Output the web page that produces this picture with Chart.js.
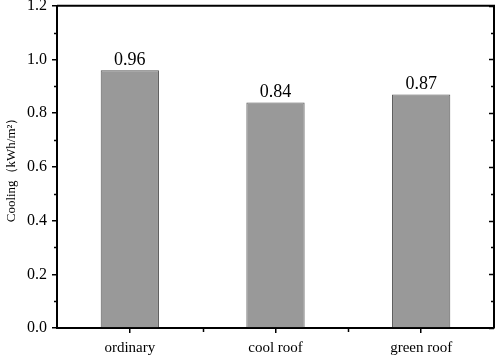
<!DOCTYPE html>
<html>
<head>
<meta charset="utf-8">
<script src="https://cdn.jsdelivr.net/npm/chart.js@4"></script>
<style>
	html, body { margin: 0; padding: 0; background: #fff; }
	#wrap { width: 498px; height: 355px; }
</style>
</head>
<body>
<div id="wrap"><canvas id="coolingChart" width="498" height="355"></canvas></div>
<script>
const categories = ['ordinary', 'cool roof', 'green roof'];
const coolingValues = [0.96, 0.84, 0.87];
const yTicks = [0, 0.2, 0.4, 0.6, 0.8, 1.0, 1.2];
const yMinorTicks = [0.1, 0.3, 0.5, 0.7, 0.9, 1.1];

const serif = '"Liberation Serif", "Times New Roman", serif';

// top + right frame, minor ticks, right-side inward ticks
const framePlugin = {
	id: 'frame',
	afterDraw(chart) {
		const ctx = chart.ctx;
		const a = chart.chartArea;
		const y = chart.scales.y;
		const x = chart.scales.x;
		ctx.save();
		ctx.strokeStyle = '#000';
		ctx.lineWidth = 2;
		ctx.beginPath();
		ctx.moveTo(a.left, a.top);
		ctx.lineTo(a.right, a.top);
		ctx.lineTo(a.right, a.bottom);
		ctx.stroke();
		ctx.lineWidth = 1.5;
		ctx.beginPath();
		yMinorTicks.forEach(v => {
			const py = Math.round(y.getPixelForValue(v)) + 0.5;
			ctx.moveTo(a.left - 3, py); ctx.lineTo(a.left, py);
			ctx.moveTo(a.right, py); ctx.lineTo(a.right - 3, py);
		});
		yTicks.forEach(v => {
			const py = Math.round(y.getPixelForValue(v)) + 0.5;
			ctx.moveTo(a.right, py); ctx.lineTo(a.right - 5, py);
		});
		for(let i = 0; i < categories.length - 1; i++) {
			const px = Math.round((x.getPixelForValue(i) + x.getPixelForValue(i + 1)) / 2) + 0.5;
			ctx.moveTo(px, a.bottom); ctx.lineTo(px, a.bottom + 4);
		}
		ctx.stroke();
		ctx.restore();
	}
};

// value above each bar
const barLabelPlugin = {
	id: 'barLabels',
	afterDatasetsDraw(chart) {
		const ctx = chart.ctx;
		const meta = chart.getDatasetMeta(0);
		ctx.save();
		ctx.font = '18px ' + serif;
		ctx.fillStyle = '#000';
		ctx.textAlign = 'center';
		ctx.textBaseline = 'bottom';
		meta.data.forEach((bar, i) => {
			ctx.fillText(coolingValues[i].toFixed(2), bar.x, bar.y - 1);
		});
		ctx.restore();
	}
};

new Chart(document.getElementById('coolingChart').getContext('2d'), {
	type: 'bar',
	data: {
		labels: categories,
		datasets: [{
			data: coolingValues,
			backgroundColor: '#999999',
			borderColor: '#555555',
			borderWidth: 1,
			barPercentage: 0.4,
			categoryPercentage: 1
		}]
	},
	options: {
		responsive: false,
		animation: false,
		layout: { padding: { top: 5, right: 4, left: 0, bottom: 0 } },
		plugins: {
			legend: { display: false },
			tooltip: { enabled: false }
		},
		scales: {
			x: {
				afterFit(scale) { scale.height = 27; },
				grid: { display: true, drawOnChartArea: false, offset: false, tickLength: 5, color: '#000', lineWidth: 1.5 },
				border: { display: true, color: '#000', width: 2 },
				ticks: { color: '#000', font: { family: serif, size: 15, lineHeight: 0.6 }, padding: 11 }
			},
			y: {
				min: 0,
				max: 1.2,
				afterFit(scale) { scale.width = 57; },
				afterBuildTicks(scale) { scale.ticks = yTicks.map(v => ({ value: v })); },
				grid: { display: true, drawOnChartArea: false, tickLength: 5, color: '#000', lineWidth: 1.5 },
				border: { display: true, color: '#000', width: 2 },
				ticks: {
					color: '#000',
					font: { family: serif, size: 16, lineHeight: 0.1 },
					padding: 5,
					callback: v => v.toFixed(1)
				},
				title: {
					display: true,
					text: 'Cooling（kWh/m²）',
					color: '#000',
					font: { family: serif, size: 13 },
					padding: { top: 4, bottom: 0 }
				}
			}
		}
	},
	plugins: [framePlugin, barLabelPlugin]
});
</script>
</body>
</html>
